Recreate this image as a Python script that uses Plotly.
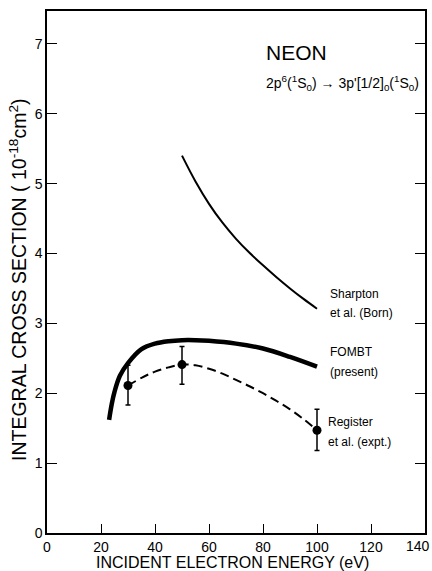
import plotly.graph_objects as go

# Sharpton et al. (Born)
sharpton_x = [50, 55, 60, 65, 70, 75, 80, 85, 90, 95, 100]
sharpton_y = [5.40, 5.03, 4.71, 4.44, 4.21, 4.01, 3.83, 3.66, 3.50, 3.35, 3.21]

# FOMBT (present)
fombt_x = [23, 24, 25, 27, 30, 35, 40, 45, 50, 55, 60, 70, 80, 90, 100]
fombt_y = [1.62, 1.85, 2.02, 2.25, 2.43, 2.63, 2.71, 2.745, 2.76, 2.76, 2.75, 2.71, 2.64, 2.52, 2.38]

# Register et al. (expt.) dashed curve
reg_curve_x = [30, 35, 40, 45, 50, 55, 60, 65, 70, 75, 80, 85, 90, 95, 100]
reg_curve_y = [2.11, 2.22, 2.31, 2.37, 2.41, 2.40, 2.35, 2.28, 2.19, 2.10, 2.00, 1.89, 1.77, 1.63, 1.47]

# Register et al. experimental points
reg_x = [30, 50, 100]
reg_y = [2.11, 2.41, 1.47]
reg_err_plus = [0.29, 0.26, 0.30]
reg_err_minus = [0.28, 0.28, 0.29]

x_ticks = [0, 20, 40, 60, 80, 100, 120]
x_last_tick = 140
y_ticks = [0, 1, 2, 3, 4, 5, 6, 7]

FONT = "Liberation Sans"

fig = go.Figure()
fig.add_trace(go.Scatter(x=sharpton_x, y=sharpton_y, mode="lines",
                         line=dict(color="black", width=2, shape="spline"),
                         showlegend=False))
fig.add_trace(go.Scatter(x=fombt_x, y=fombt_y, mode="lines",
                         line=dict(color="black", width=4.5, shape="spline"),
                         showlegend=False))
fig.add_trace(go.Scatter(x=reg_curve_x, y=reg_curve_y, mode="lines",
                         line=dict(color="black", width=2, dash="9px,5px", shape="spline"),
                         showlegend=False))
fig.add_trace(go.Scatter(x=reg_x, y=reg_y, mode="markers",
                         marker=dict(color="black", size=9),
                         error_y=dict(type="data", symmetric=False, array=reg_err_plus,
                                      arrayminus=reg_err_minus, color="black",
                                      thickness=1.5, width=2.5),
                         showlegend=False))

annots = [
    dict(x=104, y=3.42, text="Sharpton"),
    dict(x=104, y=3.15, text="et al. (Born)"),
    dict(x=104, y=2.59, text="FOMBT"),
    dict(x=104, y=2.30, text="(present)"),
    dict(x=103.5, y=1.59, text="Register"),
    dict(x=103.5, y=1.30, text="et al. (expt.)"),
]
for a in annots:
    fig.add_annotation(x=a["x"], y=a["y"], text=a["text"], showarrow=False,
                       xanchor="left", yanchor="middle",
                       font=dict(family=FONT, size=12, color="black"))

fig.add_annotation(x=80.5, y=6.88, text="NEON", showarrow=False,
                   xanchor="left", yanchor="middle",
                   font=dict(family=FONT, size=21, color="black"))
fig.add_annotation(x=80.5, y=6.44,
                   text="2p<sup>6</sup>(<sup>1</sup>S<sub>0</sub>) \u2192 3p'[1/2]<sub>0</sub>(<sup>1</sup>S<sub>0</sub>)",
                   showarrow=False, xanchor="left", yanchor="middle",
                   font=dict(family=FONT, size=14, color="black"))

# last x tick label (sits at the page edge)
fig.add_annotation(xref="paper", yref="paper", x=1, y=0, xshift=7, yshift=-3,
                   text=str(x_last_tick), showarrow=False,
                   xanchor="right", yanchor="top",
                   font=dict(family=FONT, size=14, color="black"))

# axis titles
fig.add_annotation(xref="paper", yref="paper", x=0.5, y=0, xshift=-4, yshift=-29,
                   text="INCIDENT ELECTRON ENERGY (eV)", showarrow=False,
                   xanchor="center", yanchor="middle",
                   font=dict(family=FONT, size=16, color="black"))
fig.add_annotation(xref="paper", yref="paper", x=0, y=0.5, xshift=-29, yshift=-8,
                   text="INTEGRAL CROSS SECTION ( 10<sup>-18</sup>cm<sup>2</sup>)",
                   textangle=-90, showarrow=False,
                   xanchor="center", yanchor="middle",
                   font=dict(family=FONT, size=19.5, color="black"))

fig.update_layout(
    width=432, height=571,
    margin=dict(l=47, r=7, t=11, b=38, autoexpand=False),
    plot_bgcolor="white", paper_bgcolor="white",
    font=dict(family=FONT, color="black"),
    xaxis=dict(range=[0, 140], tickvals=x_ticks + [x_last_tick],
               ticktext=[str(v) for v in x_ticks] + [""],
               ticks="inside", ticklen=9, tickwidth=1.2, tickcolor="black",
               showline=True, linecolor="black", linewidth=1.5, mirror=True,
               showgrid=False, zeroline=False, automargin=False,
               tickfont=dict(size=14)),
    yaxis=dict(range=[0, 7.47], tickvals=y_ticks, ticktext=[str(v) for v in y_ticks],
               ticks="inside", ticklen=10, tickwidth=1.2, tickcolor="black",
               showline=True, linecolor="black", linewidth=1.5, mirror="allticks",
               showgrid=False, zeroline=False, automargin=False,
               tickfont=dict(size=14)),
)

fig.write_html("out.html")
